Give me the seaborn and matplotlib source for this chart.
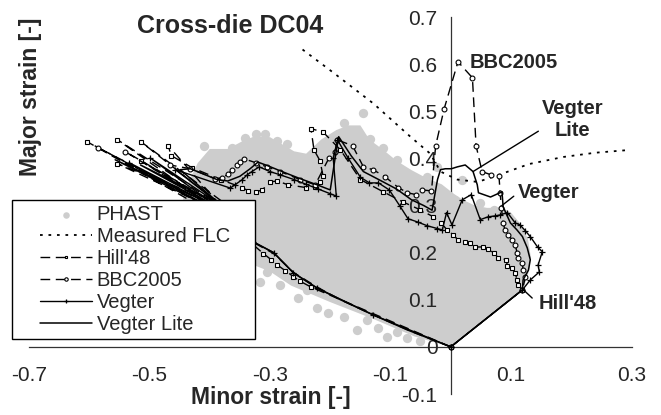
import matplotlib
matplotlib.use("Agg")
import matplotlib.pyplot as plt
import seaborn as sns
from matplotlib.lines import Line2D
from matplotlib.collections import PathCollection
from matplotlib.legend_handler import HandlerLine2D, HandlerPathCollection

# ---- data (minor strain, major strain) ----
xticks = [-0.7, -0.5, -0.3, -0.1, 0.1, 0.3]
xtick_labels = ["-0.7", "-0.5", "-0.3", "-0.1", "0.1", "0.3"]
yticks = [-0.1, 0.0, 0.1, 0.2, 0.3, 0.4, 0.5, 0.6, 0.7]
ytick_labels = ["-0.1", "0", "0.1", "0.2", "0.3", "0.4", "0.5", "0.6", "0.7"]

# dense PHAST cloud: outline of the solid grey area
phast_outline = [
    (0.0, 0.0), (0.119, 0.121), (0.128, 0.150), (0.133, 0.190), (0.128, 0.230),
    (0.115, 0.262), (0.100, 0.285), (0.085, 0.295), (0.060, 0.295), (0.040, 0.300),
    (0.020, 0.312), (0.005, 0.325), (-0.015, 0.345), (-0.040, 0.358), (-0.065, 0.375),
    (-0.090, 0.395), (-0.112, 0.418), (-0.135, 0.440), (-0.150, 0.470), (-0.170, 0.470),
    (-0.190, 0.460), (-0.215, 0.440), (-0.240, 0.410), (-0.260, 0.415), (-0.280, 0.430),
    (-0.300, 0.445), (-0.325, 0.447), (-0.345, 0.437), (-0.370, 0.420), (-0.400, 0.420),
    (-0.420, 0.390), (-0.435, 0.350), (-0.445, 0.310), (-0.440, 0.250), (-0.400, 0.200),
    (-0.330, 0.175), (-0.300, 0.160), (-0.265, 0.130), (-0.200, 0.095), (-0.130, 0.060),
    (-0.060, 0.022),
]
# loose PHAST points on the fringe of the cloud
phast_points = [
    (-0.409, 0.427), (-0.379, 0.406), (-0.394, 0.391), (-0.341, 0.444), (-0.324, 0.452),
    (-0.308, 0.452), (-0.288, 0.437), (-0.271, 0.431), (-0.255, 0.401), (-0.238, 0.397),
    (-0.422, 0.359), (-0.436, 0.333), (-0.363, 0.423), (-0.178, 0.476), (-0.155, 0.456),
    (-0.145, 0.497), (-0.134, 0.442), (-0.112, 0.423), (-0.089, 0.397), (-0.022, 0.382),
    (0.019, 0.355), (-0.017, 0.318), (0.007, 0.312), (-0.039, 0.361), (0.049, 0.306),
    (0.071, 0.291), (-0.316, 0.138), (-0.305, 0.159), (-0.283, 0.132), (-0.253, 0.104),
    (-0.238, 0.121), (-0.222, 0.083), (-0.203, 0.072), (-0.178, 0.064), (-0.155, 0.036),
    (-0.139, 0.057), (-0.120, 0.040), (-0.105, 0.021), (-0.089, 0.032), (-0.072, 0.019),
    (-0.051, 0.013),
]

flc = [
    (-0.246, 0.631), (-0.195, 0.582), (-0.128, 0.516), (-0.067, 0.446), (-0.034, 0.410),
    (-0.017, 0.372), (0.011, 0.355), (0.045, 0.350), (0.082, 0.366), (0.130, 0.388),
    (0.187, 0.403), (0.240, 0.412), (0.298, 0.418),
]

hill48 = [
    (0.0, 0.0), (-0.232, 0.127), (-0.251, 0.140), (-0.261, 0.149), (-0.275, 0.162),
    (-0.288, 0.174), (-0.298, 0.185), (-0.311, 0.198), (-0.34, 0.23), (-0.37, 0.265),
    (-0.603, 0.435), (-0.375, 0.28), (-0.554, 0.440), (-0.37, 0.29), (-0.514, 0.435),
    (-0.365, 0.295), (-0.554, 0.389), (-0.38, 0.285), (-0.514, 0.395), (-0.375, 0.29),
    (-0.469, 0.427), (-0.464, 0.406), (-0.429, 0.380), (-0.382, 0.355), (-0.346, 0.338),
    (-0.336, 0.331), (-0.323, 0.329), (-0.313, 0.333), (-0.300, 0.350), (-0.288, 0.352),
    (-0.270, 0.344), (-0.240, 0.338), (-0.225, 0.340), (-0.217, 0.350), (-0.212, 0.363),
    (-0.217, 0.395), (-0.227, 0.418), (-0.232, 0.463), (-0.212, 0.456), (-0.183, 0.418),
    (-0.150, 0.355), (-0.112, 0.329), (-0.080, 0.308), (-0.051, 0.291), (-0.029, 0.276),
    (-0.016, 0.263), (-0.006, 0.248), (0.004, 0.238), (0.012, 0.227), (0.024, 0.223),
    (0.032, 0.221), (0.041, 0.212), (0.054, 0.212), (0.061, 0.208), (0.071, 0.200),
    (0.079, 0.189), (0.092, 0.185), (0.094, 0.172), (0.102, 0.168), (0.107, 0.157),
    (0.110, 0.142), (0.112, 0.132), (0.119, 0.121), (0.0, 0.0),
]

bbc2005 = [
    (0.0, 0.0), (-0.06, 0.03), (-0.129, 0.068), (-0.183, 0.100), (-0.222, 0.127),
    (-0.261, 0.158), (-0.294, 0.198), (-0.328, 0.222), (-0.36, 0.255), (-0.38, 0.28),
    (-0.586, 0.423), (-0.375, 0.285), (-0.540, 0.414), (-0.37, 0.29), (-0.466, 0.386),
    (-0.432, 0.378), (-0.391, 0.357), (-0.379, 0.359), (-0.369, 0.367), (-0.363, 0.376),
    (-0.354, 0.386), (-0.349, 0.393), (-0.343, 0.399), (-0.324, 0.391), (-0.305, 0.382),
    (-0.283, 0.372), (-0.250, 0.355), (-0.225, 0.344), (-0.202, 0.401), (-0.192, 0.414),
    (-0.188, 0.439), (-0.163, 0.427), (-0.145, 0.382), (-0.129, 0.376), (-0.109, 0.361),
    (-0.087, 0.338), (-0.072, 0.327), (-0.057, 0.323), (-0.047, 0.333), (-0.032, 0.331),
    (-0.025, 0.427), (-0.011, 0.505), (0.012, 0.605), (0.036, 0.571), (0.042, 0.427),
    (0.052, 0.372), (0.067, 0.365), (0.080, 0.363), (0.082, 0.327), (0.084, 0.295),
    (0.087, 0.263), (0.090, 0.248), (0.095, 0.238), (0.102, 0.227), (0.107, 0.217),
    (0.110, 0.200), (0.112, 0.189), (0.119, 0.178), (0.120, 0.163), (0.124, 0.149),
    (0.119, 0.121), (0.0, 0.0),
]

vegter = [
    (0.0, 0.0), (-0.129, 0.068), (-0.222, 0.125),
    (-0.261, 0.157), (-0.294, 0.200), (-0.328, 0.223), (-0.36, 0.26), (-0.385, 0.285),
    (-0.534, 0.391), (-0.38, 0.29), (-0.499, 0.401), (-0.375, 0.295), (-0.457, 0.376),
    (-0.366, 0.337), (-0.358, 0.344), (-0.346, 0.355), (-0.338, 0.365), (-0.330, 0.372),
    (-0.318, 0.382), (-0.300, 0.372), (-0.283, 0.365), (-0.260, 0.355), (-0.240, 0.345),
    (-0.220, 0.335), (-0.200, 0.325), (-0.190, 0.320), (-0.195, 0.400), (-0.188, 0.439),
    (-0.170, 0.400), (-0.150, 0.360), (-0.135, 0.348), (-0.120, 0.348), (-0.102, 0.333),
    (-0.085, 0.300), (-0.071, 0.272), (-0.055, 0.265), (-0.039, 0.257), (-0.022, 0.251),
    (-0.014, 0.248), (-0.007, 0.285), (0.002, 0.259), (0.019, 0.312), (0.034, 0.323),
    (0.049, 0.270), (0.062, 0.276), (0.074, 0.278), (0.082, 0.280), (0.094, 0.285),
    (0.107, 0.263), (0.115, 0.259), (0.124, 0.246), (0.132, 0.234), (0.144, 0.212),
    (0.152, 0.202), (0.145, 0.174), (0.147, 0.159), (0.132, 0.142), (0.119, 0.121),
    (0.0, 0.0),
]

vegter_lite = [
    (0.0, 0.0), (-0.072, 0.036), (-0.129, 0.068), (-0.183, 0.100), (-0.222, 0.125),
    (-0.261, 0.157), (-0.294, 0.200), (-0.328, 0.223), (-0.36, 0.26), (-0.39, 0.29),
    (-0.557, 0.397), (-0.385, 0.295), (-0.515, 0.386), (-0.38, 0.30), (-0.449, 0.376),
    (-0.432, 0.378), (-0.388, 0.355), (-0.370, 0.352), (-0.350, 0.362), (-0.333, 0.378),
    (-0.320, 0.392), (-0.305, 0.385), (-0.280, 0.372), (-0.250, 0.357), (-0.220, 0.343),
    (-0.200, 0.333), (-0.192, 0.400), (-0.186, 0.446), (-0.165, 0.405), (-0.145, 0.372),
    (-0.115, 0.352), (-0.090, 0.335), (-0.065, 0.312), (-0.045, 0.300), (-0.031, 0.290),
    (-0.022, 0.355), (-0.017, 0.376), (-0.009, 0.378), (0.001, 0.378), (0.011, 0.382),
    (0.024, 0.386), (0.037, 0.372), (0.044, 0.344), (0.046, 0.327), (0.066, 0.318),
    (0.085, 0.329), (0.087, 0.297), (0.099, 0.263), (0.110, 0.248), (0.119, 0.234),
    (0.127, 0.210), (0.132, 0.185), (0.129, 0.163), (0.120, 0.142), (0.119, 0.121),
    (0.0, 0.0),
]

# ---- style ----
sns.set_style("white")
plt.rcParams["font.family"] = ["Liberation Sans", "DejaVu Sans"]
plt.rcParams["axes.unicode_minus"] = False
GREY = "#cdcdcd"

fig = plt.figure(figsize=(6.61, 4.15), dpi=100)
ax = fig.add_axes([29 / 661, 21 / 415, 602.5 / 661, 377 / 415])

cx, cy = zip(*phast_outline)
ax.fill(cx, cy, color=GREY, lw=0, zorder=0.3)
px, py = zip(*phast_points)
sns.scatterplot(x=list(px), y=list(py), color=GREY, s=45, linewidth=0,
                label="PHAST", legend=False, ax=ax, zorder=0.35)
sc = ax.collections[-1]


def draw(pts, label, **kw):
    xs, ys = zip(*pts)
    sns.lineplot(x=list(xs), y=list(ys), sort=False, estimator=None, color="k",
                 label=label, legend=False, ax=ax, **kw)
    return ax.lines[-1]


h_flc = draw(flc, "Measured FLC", lw=1.3, linestyle=(0, (1.5, 3.2)))
h_hill = draw(hill48, "Hill'48", lw=1.0, linestyle=(0, (7, 4)), marker="s",
              markersize=3, mfc="white", mec="k", mew=0.8, markevery=slice(1, None))
h_bbc = draw(bbc2005, "BBC2005", lw=1.0, linestyle=(0, (7, 4)), marker="o",
             markersize=3.5, mfc="white", mec="k", mew=0.8, markevery=slice(9, None))
h_veg = draw(vegter, "Vegter", lw=1.0, marker="+", markersize=5, mec="k", mew=0.9)
h_vl = draw(vegter_lite, "Vegter Lite", lw=1.1)

# ---- axes through the origin ----
ax.set_xlim(-0.7, 0.3)
ax.set_ylim(-0.1, 0.7)
ax.set_axisbelow(True)
for side in ["top", "right"]:
    ax.spines[side].set_visible(False)
for side in ["left", "bottom"]:
    ax.spines[side].set_position(("data", 0))
    ax.spines[side].set_color("#333333")
    ax.spines[side].set_linewidth(0.9)
    ax.spines[side].set_zorder(0.2)
ax.set_xticks(xticks)
ax.set_xticklabels(xtick_labels)
ax.set_yticks(yticks)
ax.set_yticklabels(ytick_labels)
ax.tick_params(axis="x", direction="out", length=5, width=0.9, pad=8.5,
               labelsize=15, color="#333333")
ax.tick_params(axis="y", direction="out", length=4, width=0.9, pad=5.5,
               labelsize=15, color="#333333")

ax.set_xlabel("Minor strain [-]", fontsize=16.5, fontweight="bold")
ax.xaxis.set_label_coords(0.402, -0.008)
ax.xaxis.label.set_va("center")
ax.set_ylabel("Major strain [-]", fontsize=16.5, fontweight="bold")
ax.yaxis.set_label_coords(0.002, 0.789)
ax.yaxis.label.set_va("center")
ax.set_title("Cross-die DC04", x=0.334, y=0.958, pad=0, fontsize=18,
             fontweight="bold")

# ---- curve labels ----
ax.text(0.031, 0.603, "BBC2005", ha="left", va="center", fontsize=14.5,
        fontweight="bold")
ax.annotate("Vegter\nLite", xy=(0.037, 0.372), xytext=(0.202, 0.482),
            ha="center", va="center", fontsize=14.5, fontweight="bold",
            arrowprops=dict(arrowstyle="-", color="k", lw=1, shrinkA=0,
                            shrinkB=0, relpos=(0.0, 0.27)))
ax.annotate("Vegter", xy=(0.085, 0.300), xytext=(0.163, 0.327),
            ha="center", va="center", fontsize=14.5, fontweight="bold",
            arrowprops=dict(arrowstyle="-", color="k", lw=1, shrinkA=1,
                            shrinkB=0, relpos=(0.0, 0.5)))
ax.annotate("Hill'48", xy=(0.119, 0.123), xytext=(0.194, 0.091),
            ha="center", va="center", fontsize=14.5, fontweight="bold",
            arrowprops=dict(arrowstyle="-", color="k", lw=1, shrinkA=3,
                            shrinkB=0, relpos=(0.0, 0.5)))

# ---- legend ----
leg = ax.legend(
    handles=[sc, h_flc, h_hill, h_bbc, h_veg, h_vl],
    labels=["PHAST", "Measured FLC", "Hill'48", "BBC2005", "Vegter", "Vegter Lite"],
    loc="lower left", bbox_to_anchor=(-0.028, 0.146, 0.403, 0.3), mode="expand",
    borderaxespad=0, fontsize=14.5, frameon=True, fancybox=False, edgecolor="k",
    framealpha=1, borderpad=0.25, labelspacing=0.15, handlelength=3.7,
    handletextpad=0.25, markerscale=0.7,
    handler_map={Line2D: HandlerLine2D(xpad=1.14),
                 PathCollection: HandlerPathCollection(xpad=1.14)},
)
leg.get_frame().set_linewidth(1.0)
leg.set_zorder(5)

fig.savefig("out.png", dpi=100)
